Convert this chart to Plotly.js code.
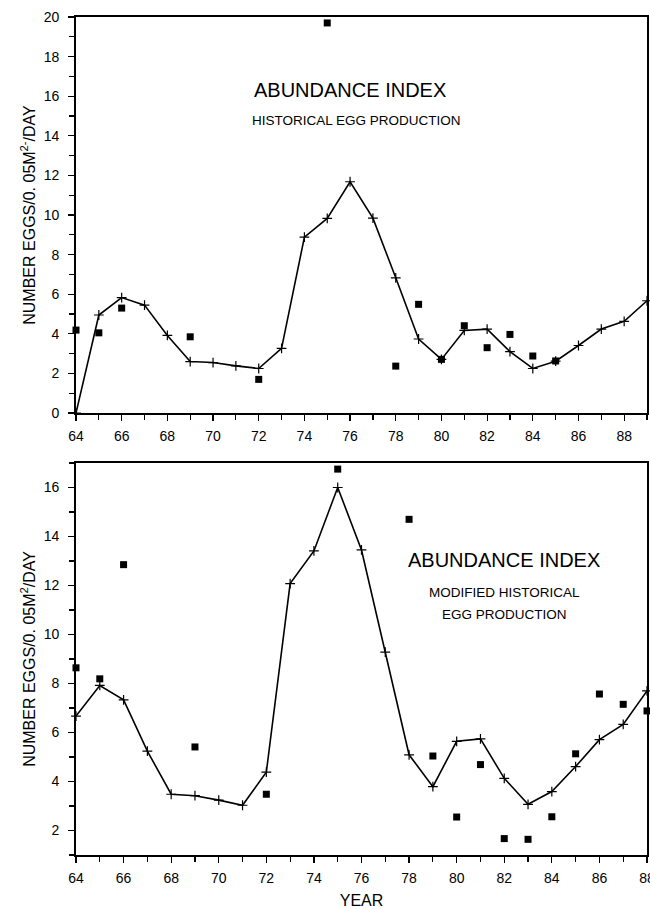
<!DOCTYPE html>
<html>
<head>
<meta charset="utf-8">
<script src="https://cdn.plot.ly/plotly-3.0.1.min.js"></script>
<style>
html,body{margin:0;padding:0;background:#fff;}
#chart{width:650px;height:909px;}
</style>
</head>
<body>
<div id="chart"></div>
<script>
// ---- Top panel: historical egg production ----
const topLineYears = [64,65,66,67,68,69,70,71,72,73,74,75,76,77,78,79,80,81,82,83,84,85,86,87,88,89];
const topLineValues = [0,4.95,5.83,5.45,3.92,2.6,2.55,2.38,2.25,3.27,8.88,9.83,11.68,9.84,6.83,3.74,2.71,4.17,4.24,3.1,2.25,2.62,3.41,4.24,4.63,5.67];
const topObsYears = [64,65,66,69,72,75,78,79,80,81,82,83,84,85];
const topObsValues = [4.19,4.05,5.3,3.85,1.7,19.7,2.37,5.49,2.71,4.41,3.3,3.97,2.88,2.63];

// ---- Bottom panel: modified historical egg production ----
const botLineYears = [64,65,66,67,68,69,70,71,72,73,74,75,76,77,78,79,80,81,82,83,84,85,86,87,88];
const botLineValues = [6.67,7.92,7.33,5.24,3.48,3.42,3.24,3.03,4.38,12.08,13.41,16.0,13.45,9.28,5.09,3.79,5.64,5.74,4.13,3.07,3.59,4.61,5.71,6.33,7.7];
const botObsYears = [64,65,66,69,72,75,78,79,80,81,82,83,84,85,86,87,88];
const botObsValues = [8.64,8.19,12.85,5.41,3.48,16.75,14.7,5.04,2.55,4.69,1.67,1.64,2.56,5.13,7.57,7.15,6.88];

const xTickVals = [64,66,68,70,72,74,76,78,80,82,84,86,88];
const topYTicks = [0,2,4,6,8,10,12,14,16,18,20];
const botYTicks = [2,4,6,8,10,12,14,16];

const FONT = '"Liberation Sans", Arial, Helvetica, sans-serif';

const lineStyle = {color:'#000', width:1.6};
const plusMarker = {symbol:'cross-thin', size:7, color:'#000', line:{color:'#000', width:1.2}};
const squareMarker = {symbol:'square', size:7, color:'#000', line:{width:0}};

const traces = [
  {x:topLineYears, y:topLineValues, xaxis:'x', yaxis:'y', mode:'lines+markers', line:lineStyle, marker:plusMarker, cliponaxis:false, showlegend:false, hoverinfo:'skip'},
  {x:topObsYears, y:topObsValues, xaxis:'x', yaxis:'y', mode:'markers', marker:squareMarker, cliponaxis:false, showlegend:false},
  {x:botLineYears, y:botLineValues, xaxis:'x2', yaxis:'y2', mode:'lines+markers', line:lineStyle, marker:plusMarker, cliponaxis:false, showlegend:false, hoverinfo:'skip'},
  {x:botObsYears, y:botObsValues, xaxis:'x2', yaxis:'y2', mode:'markers', marker:squareMarker, cliponaxis:false, showlegend:false}
];

const xCommon = {
  tickmode:'array', tickvals:xTickVals, ticktext:xTickVals.map(String),
  ticks:'outside', ticklen:6, tickwidth:1.2, tickcolor:'#000',
  minor:{dtick:1, ticks:'outside', ticklen:5, tickwidth:1.2, tickcolor:'#000', showgrid:false},
  showline:true, linecolor:'#000', linewidth:1.8, mirror:true,
  showgrid:false, zeroline:false,
  tickfont:{family:FONT, size:14, color:'#000'},
  ticklabelstandoff:3,
  ticklabeloverflow:'allow'
};
const yCommon = {
  tickmode:'array',
  ticks:'outside', ticklen:6, tickwidth:1.2, tickcolor:'#000',
  minor:{dtick:1, ticks:'outside', ticklen:5, tickwidth:1.2, tickcolor:'#000', showgrid:false},
  showline:true, linecolor:'#000', linewidth:1.8, mirror:true,
  showgrid:false, zeroline:false,
  tickfont:{family:FONT, size:14, color:'#000'},
  ticklabelstandoff:6
};

const layout = {
  width:650, height:909,
  margin:{l:76, r:3, t:17, b:54},
  paper_bgcolor:'#fff', plot_bgcolor:'#fff',
  font:{family:FONT, color:'#000'},
  showlegend:false,
  xaxis:Object.assign({}, xCommon, {range:[64,89], anchor:'y', domain:[0,1]}),
  yaxis:Object.assign({}, yCommon, {range:[0,20], tickvals:topYTicks, ticktext:topYTicks.map(String), anchor:'x', domain:[0.5274,1],
    title:{text:'NUMBER EGGS/0. 05M<sup>2-</sup>/DAY', font:{family:FONT, size:16, color:'#000'}, standoff:4}}),
  xaxis2:Object.assign({}, xCommon, {range:[64,88], anchor:'y2', domain:[0,1],
    title:{text:'YEAR', font:{family:FONT, size:16, color:'#000'}, standoff:10}}),
  yaxis2:Object.assign({}, yCommon, {range:[1,17], tickvals:botYTicks, ticktext:botYTicks.map(String), anchor:'x2', domain:[0,0.4678],
    title:{text:'NUMBER EGGS/0. 05M<sup>2</sup>/DAY', font:{family:FONT, size:16, color:'#000'}, standoff:4}}),
  annotations:[
    {xref:'x', yref:'y', x:76.0, y:16.3, text:'ABUNDANCE INDEX', showarrow:false, font:{family:FONT, size:20, color:'#000'}},
    {xref:'x', yref:'y', x:76.3, y:14.75, text:'HISTORICAL EGG PRODUCTION', showarrow:false, font:{family:FONT, size:13.5, color:'#000'}},
    {xref:'x2', yref:'y2', x:82.0, y:13.05, text:'ABUNDANCE INDEX', showarrow:false, font:{family:FONT, size:20, color:'#000'}},
    {xref:'x2', yref:'y2', x:82.0, y:11.7, text:'MODIFIED HISTORICAL', showarrow:false, font:{family:FONT, size:13.5, color:'#000'}},
    {xref:'x2', yref:'y2', x:82.0, y:10.8, text:'EGG PRODUCTION', showarrow:false, font:{family:FONT, size:13.5, color:'#000'}}
  ]
};

Plotly.newPlot('chart', traces, layout, {displayModeBar:false, staticPlot:true});
</script>
</body>
</html>
